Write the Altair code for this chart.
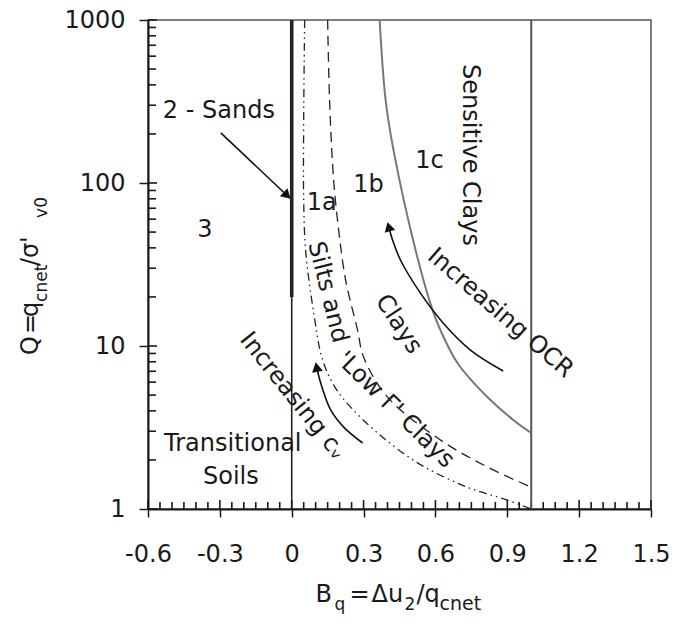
import altair as alt
import pandas as pd
import numpy as np

FONT = "DejaVu Sans"
INK = "#1a1a1a"

# ---- classification boundaries (Bq, Q) ----
silt_lower_bq = [0.054, 0.05, 0.05, 0.058, 0.092, 0.129, 0.183, 0.246, 0.358, 0.525, 0.733, 0.9, 1.0]
silt_lower_q = [1000, 243.6, 78.7, 38.8, 15.9, 8.2, 5.52, 4.22, 2.93, 1.92, 1.36, 1.135, 1.0]

clay_lower_bq = [0.15, 0.158, 0.175, 0.196, 0.225, 0.275, 0.3, 0.4, 0.621, 0.817, 1.0]
clay_lower_q = [1000, 323, 104, 51.5, 25.4, 12.5, 8.57, 4.86, 2.65, 1.81, 1.36]

sensitive_bq = [0.367, 0.392, 0.425, 0.517, 0.588, 0.621, 0.692, 0.817, 0.925, 1.0]
sensitive_q = [1000, 323, 159, 38.8, 16.6, 12.5, 7.87, 4.86, 3.52, 2.93]

# ---- trend arrows ----
ocr_arrow_bq = [0.883, 0.746, 0.633, 0.5375, 0.454, 0.421, 0.405]
ocr_arrow_q = [7.03, 9.45, 13.8, 21.1, 33.7, 44.7, 53.9]

cv_arrow_bq = [0.296, 0.217, 0.1625, 0.121, 0.104]
cv_arrow_q = [2.54, 3.18, 4.05, 5.93, 7.43]

sands_arrow_bq = [-0.296, -0.0192]
sands_arrow_q = [203, 83.8]

head_bq = [0.405, 0.104, -0.0192]
head_q = [53.9, 7.43, 83.8]
head_angle = [344.5, 349.2, 133.7]

# ---- zone labels ----
label_text = ["2 - Sands", "3", "1a", "1b", "1c", "Transitional", "Soils",
              "Sensitive Clays", "Silts and", "'Low Γ' Clays", "Clays",
              "Increasing OCR", "Increasing cᵥ"]
label_bq = [-0.304, -0.3625, 0.125, 0.321, 0.575, -0.246, -0.254,
            0.746, 0.15, 0.433, 0.446, 0.871, 0.004]
label_q = [276.6, 51.5, 75.4, 97.2, 136, 2.5, 1.57,
           148.6, 21.4, 4.05, 13.6, 15.9, 4.93]
label_angle = [0, 0, 0, 0, 0, 0, 0, 90, 76, 44.5, 57, 41, 51.5]

# ---- axes ----
x_ticks = [-0.6, -0.3, 0, 0.3, 0.6, 0.9, 1.2, 1.5]
y_ticks = [1, 10, 100, 1000]

X_DOMAIN = [-0.6, 1.5]
Y_DOMAIN = [1, 1000]
W, H = 503, 489

xs = alt.Scale(domain=X_DOMAIN, nice=False, zero=False)
ys = alt.Scale(type="log", domain=Y_DOMAIN, nice=False)

x_axis = alt.Axis(
    values=x_ticks, title=None, grid=False,
    labelExpr="datum.value < 0 ? '-' + format(-datum.value, '.1f') : "
              "(datum.value == 0 ? '0' : format(datum.value, '.1f'))",
    labelFont=FONT, labelFontSize=24, labelColor=INK, labelPadding=25,
    tickSize=8, tickWidth=1.5, tickColor=INK,
    domainColor=INK, domainWidth=2, labelFlush=False)
y_axis = alt.Axis(
    values=y_ticks, title=None, grid=False, format="d",
    labelFont=FONT, labelFontSize=24, labelColor=INK, labelPadding=14,
    tickSize=9, tickWidth=1.5, tickColor=INK,
    domainColor=INK, domainWidth=2, labelFlush=False)


def X(field="bq"):
    return alt.X(f"{field}:Q", scale=xs, axis=x_axis)


def Y(field="q"):
    return alt.Y(f"{field}:Q", scale=ys, axis=y_axis)


def curve(bq, q, **mark):
    df = pd.DataFrame({"bq": bq, "q": q, "i": range(len(bq))})
    return alt.Chart(df).mark_line(interpolate="catmull-rom", **mark).encode(
        x=X(), y=Y(), order="i:Q")


# inward tick marks along the left and bottom edges
x_major_in = pd.DataFrame({"bq": x_ticks})
x_minor_in = pd.DataFrame({"bq": [v for v in np.round(np.arange(-0.55, 1.5, 0.05), 2)
                                  if not any(abs(v - t) < 1e-6 for t in x_ticks)]})
y_major_in = pd.DataFrame({"q": y_ticks})
y_minor_in = pd.DataFrame({"q": [m * 10 ** k for k in range(3) for m in range(2, 10)]})

in_ticks = [
    alt.Chart(x_major_in).mark_rule(color=INK, strokeWidth=1.6).encode(
        x=X(), y=alt.value(H), y2=alt.value(H - 9)),
    alt.Chart(x_minor_in).mark_rule(color=INK, strokeWidth=1.6).encode(
        x=X(), y=alt.value(H), y2=alt.value(H - 7)),
    alt.Chart(y_major_in).mark_rule(color=INK, strokeWidth=1.6).encode(
        y=Y(), x=alt.value(0), x2=alt.value(9)),
    alt.Chart(y_minor_in).mark_rule(color=INK, strokeWidth=1.6).encode(
        y=Y(), x=alt.value(0), x2=alt.value(8)),
]

# vertical zone limits at Bq = 0 and Bq = 1, and the sands band on Bq = 0
v_zero = alt.Chart(pd.DataFrame({"bq": [0.0], "q": [1], "q1": [1000]})).mark_rule(
    color="#222", strokeWidth=1.6).encode(x=X(), y=Y(), y2="q1:Q")
v_one = alt.Chart(pd.DataFrame({"bq": [1.0], "q": [1], "q1": [1000]})).mark_rule(
    color="#555", strokeWidth=2).encode(x=X(), y=Y(), y2="q1:Q")
sands_band = alt.Chart(pd.DataFrame({"bq": [0.0], "q": [20], "q1": [1000]})).mark_rule(
    color="#222", strokeWidth=3.6).encode(x=X(), y=Y(), y2="q1:Q")

silt_line = curve(silt_lower_bq, silt_lower_q, color="#222", strokeWidth=1.3,
                  strokeDash=[8, 4, 1.5, 4, 1.5, 4])
clay_line = curve(clay_lower_bq, clay_lower_q, color="#222", strokeWidth=1.3,
                  strokeDash=[10, 6])
sens_line = curve(sensitive_bq, sensitive_q, color="#777", strokeWidth=2)

ocr_line = curve(ocr_arrow_bq, ocr_arrow_q, color="#111", strokeWidth=1.6)
cv_line = curve(cv_arrow_bq, cv_arrow_q, color="#111", strokeWidth=1.6)
sands_line = curve(sands_arrow_bq, sands_arrow_q, color="#111", strokeWidth=1.6)

heads = alt.Chart(pd.DataFrame({"bq": head_bq, "q": head_q, "a": head_angle})).mark_point(
    shape="triangle-up", filled=True, color="#111", size=120, opacity=1).encode(
    x=X(), y=Y(), angle=alt.Angle("a:Q", scale=None))

labels = alt.Chart(pd.DataFrame({"t": label_text, "bq": label_bq, "q": label_q,
                                 "a": label_angle})).mark_text(
    font=FONT, fontSize=24, color=INK, align="center", baseline="middle").encode(
    x=X(), y=Y(), text="t:N", angle=alt.Angle("a:Q", scale=None))

# axis titles assembled piece by piece so the subscripts can be drawn smaller
xt_text = ["B", "q", "=", "Δu", "2", "/q", "cnet"]
xt_dx = [-84, -65, -50, -28, 5, 17, 40]
xt_dy = [93, 101, 93, 93, 101, 93, 101]
xt_size = [24, 17, 24, 24, 17, 24, 19]

yt_text = ["Q", "=", "q", "cnet", "/", "σ", "'", "v0"]
yt_dx = [-80, -59, -42, -27, 9, 17, 32, 57]
yt_dy = [-110, -110, -110, -101, -110, -110, -110, -101]
yt_size = [24, 24, 24, 17, 24, 24, 24, 17]

title_layers = []
x_anchor = pd.DataFrame({"bq": [0.45], "q": [1]})
for t, dx, dy, s in zip(xt_text, xt_dx, xt_dy, xt_size):
    title_layers.append(alt.Chart(x_anchor).mark_text(
        text=t, font=FONT, fontSize=s, color=INK, align="left",
        baseline="alphabetic", dx=dx, dy=dy).encode(x=X(), y=Y()))

y_anchor = pd.DataFrame({"bq": [-0.6], "q": [27.3]})
for t, dx, dy, s in zip(yt_text, yt_dx, yt_dy, yt_size):
    title_layers.append(alt.Chart(y_anchor).mark_text(
        text=t, font=FONT, fontSize=s, color=INK, align="left",
        baseline="alphabetic", angle=270, dx=dx, dy=dy).encode(x=X(), y=Y()))

chart = alt.layer(
    *in_ticks, v_zero, v_one, sands_band,
    silt_line, clay_line, sens_line,
    ocr_line, cv_line, sands_line, heads, labels, *title_layers,
).properties(
    width=W, height=H,
    autosize=alt.AutoSizeParams(type="none"),
    padding={"left": 148, "top": 20, "right": 22, "bottom": 115},
    background="white",
).configure_view(stroke="#555", strokeWidth=1.5)

chart.save("out.html", embed_options={"renderer": "svg", "actions": False})
